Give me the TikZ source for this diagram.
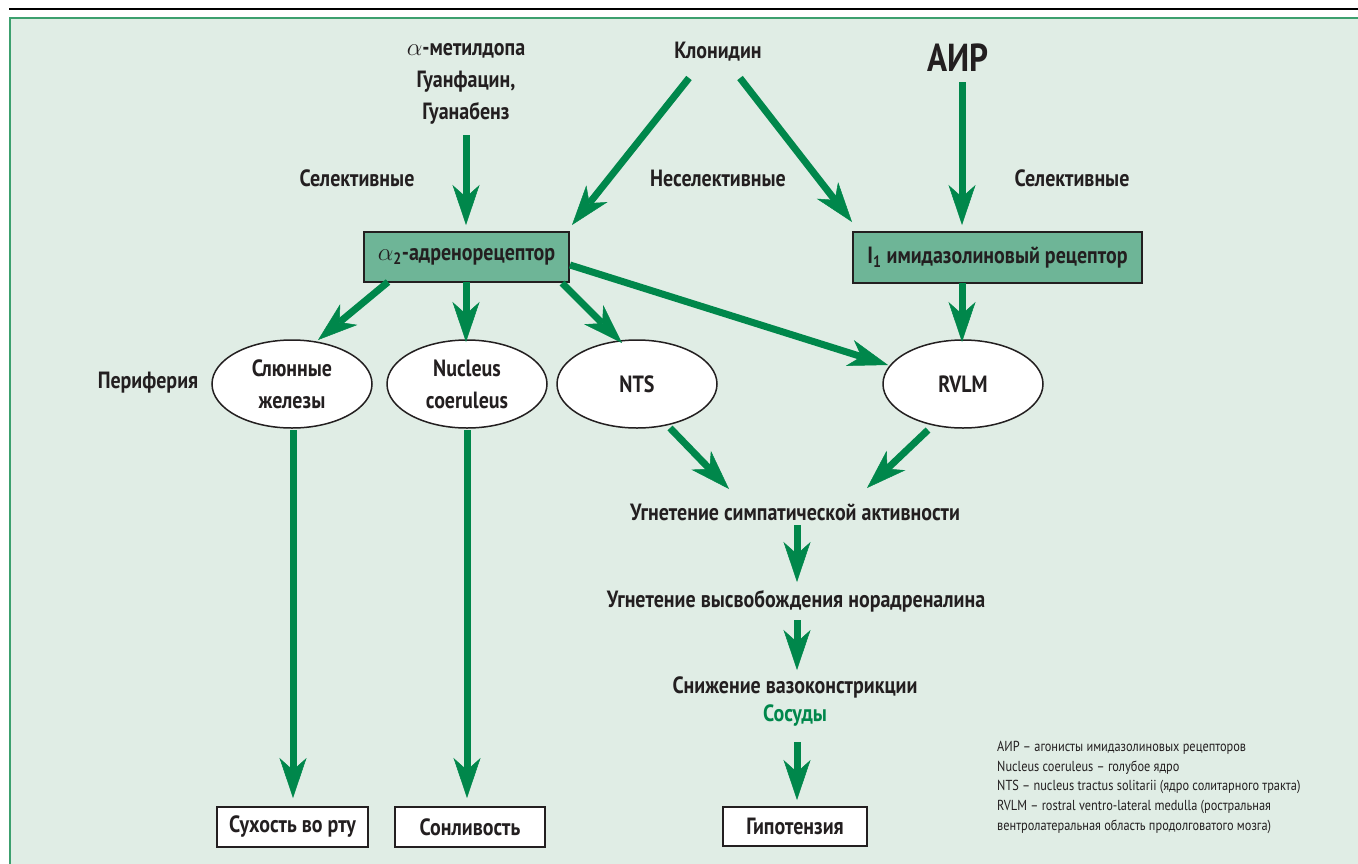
\documentclass[tikz,border=0pt]{standalone}
\usepackage{fontspec}
\setmainfont{PT Sans}[FakeStretch=0.85]
\usetikzlibrary{arrows.meta,calc,shapes.geometric}
\definecolor{bgc}{RGB}{224,237,229}
\definecolor{panelc}{RGB}{60,160,110}
\definecolor{arrc}{RGB}{0,135,75}
\definecolor{boxc}{RGB}{110,181,151}
\definecolor{txt}{RGB}{35,31,32}
\begin{document}
\begin{tikzpicture}[x=1pt,y=-1pt,
  every node/.style={text=txt, inner sep=1pt},
  lbl/.style={font=\fontsize{23.5}{32}\selectfont\bfseries, align=center},
  arr/.style={draw=arrc, line width=7pt, -{Stealth[length=40pt,width=27pt,inset=12pt,line width=0.5pt]}},
  rbox/.style={lbl, draw=txt, line width=2pt, fill=boxc, inner sep=0pt},
  ell/.style={lbl, ellipse, draw=txt, line width=1.5pt, fill=white, minimum width=160pt, minimum height=88pt, inner sep=0pt},
  res/.style={lbl, draw=txt, line width=2pt, fill=white, minimum height=40pt, inner sep=0pt}]
\useasboundingbox (0,0) rectangle (1358,863);
\draw[line width=1.5pt, black] (9,9) -- (1358,9);
\draw[draw=panelc, fill=bgc, line width=2pt] (10,18) rectangle (1370,875);
% top drugs
\node[lbl] (drugs) at (466,84) {$\alpha$-метилдопа\\Гуанфацин,\\Гуанабенз};
\node[lbl] (clon) at (718,52) {Клонидин};
\node[lbl, font=\fontsize{39}{42}\selectfont\bfseries] (air) at (958,58) {АИР};
\node[lbl] (sel1) at (357,178) {Селективные};
\node[lbl] (nonsel) at (718,178) {Неселективные};
\node[lbl] (sel2) at (1072,178) {Селективные};
% receptors
\node[rbox, minimum width=205pt, minimum height=50pt] (alpha) at (466.5,257) {$\alpha$\textsubscript{2}-адренорецептор};
\node[rbox, minimum width=289pt, minimum height=51pt] (i1) at (997.5,257.5) {I\textsubscript{1} имидазолиновый рецептор};
% ellipses
\node[lbl] (peri) at (148,383) {Периферия};
\node[ell] (sal) at (292,384) {Слюнные\\железы};
\node[ell] (nc) at (467,384) {Nucleus\\coeruleus};
\node[ell] (nts) at (637,384) {NTS};
\node[ell] (rvlm) at (963,384) {RVLM};
% chain
\node[lbl] (ugn1) at (795,512) {Угнетение симпатической активности};
\node[lbl] (ugn2) at (796,601) {Угнетение высвобождения норадреналина};
\node[lbl] (vaso) at (795,687) {Снижение вазоконстрикции};
\node[lbl, text=arrc] (sos) at (795,716) {Сосуды};
% results
\node[res, minimum width=151pt] (dry) at (292.5,827) {Сухость во рту};
\node[res, minimum width=150pt] (sleep) at (470,827) {Сонливость};
\node[res, minimum width=144pt, minimum height=39pt] (hypo) at (795,826.5) {Гипотензия};
% legend
\node[anchor=north west, align=left, font=\fontsize{14.5}{19.7}\selectfont] (legend) at (996,740)
 {АИР – агонисты имидазолиновых рецепторов\\
  Nucleus coeruleus – голубое ядро\\
  NTS – nucleus tractus solitarii (ядро солитарного тракта)\\
  RVLM – rostral ventro-lateral medulla (ростральная\\
  вентролатеральная область продолговатого мозга)};
% arrows
\draw[arr] ($(drugs)+(0,51)$) -- ($(alpha)+(-0.5,-32)$);
\draw[arr] ($(clon)+(-29,26)$) -- ($(alpha)+(105.5,-32)$);
\draw[arr] ($(clon)+(22,26)$) -- ($(i1)+(-145.5,-35.5)$);
\draw[arr] ($(air)+(4,24)$) -- ($(i1)+(-35.5,-32.5)$);
\draw[arr] ($(alpha)+(-78.5,25)$) -- ($(sal)+(26,-44)$);
\draw[arr] ($(alpha)+(-0.5,25)$) -- ($(nc)+(-1,-42)$);
\draw[arr] ($(alpha)+(95.5,26)$) -- ($(nts)+(-15,-41)$);
\draw[arr] ($(alpha)+(103.5,8)$) -- ($(rvlm)+(-75,-19)$);
\draw[arr] ($(i1)+(-35.5,25.5)$) -- ($(rvlm)+(-1,-42)$);
\draw[arr] ($(nts)+(33,44)$) -- ($(ugn1)+(-66,-23)$);
\draw[arr] ($(rvlm)+(-35,46)$) -- ($(ugn1)+(72,-24)$);
\draw[arr] ($(ugn1)+(2,13)$) -- ($(ugn2)+(1,-19)$);
\draw[arr] ($(ugn2)+(1,19)$) -- ($(vaso)+(2,-17)$);
\draw[arr] ($(sos)+(2,26)$) -- ($(hypo)+(2,-26.5)$);
\draw[arr] ($(sal)+(1,46)$) -- ($(dry)+(0.5,-29)$);
\draw[arr] ($(nc)+(0,46)$) -- ($(sleep)+(-3,-29)$);
\end{tikzpicture}
\end{document}
